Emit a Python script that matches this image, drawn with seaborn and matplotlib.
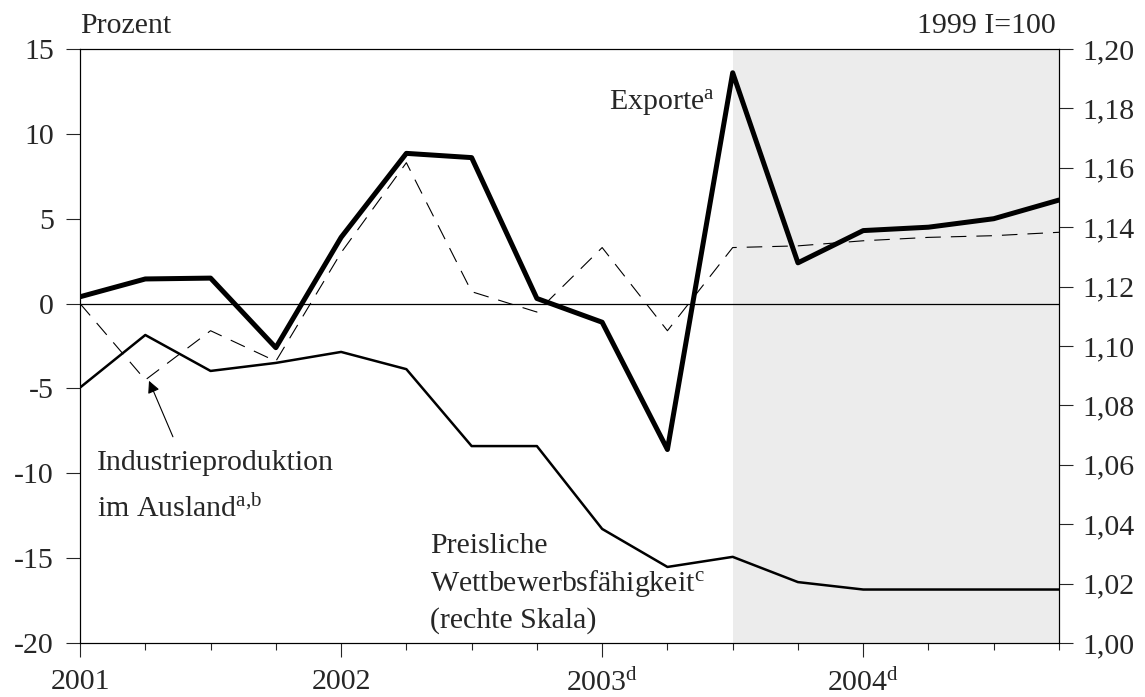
import matplotlib
matplotlib.use('Agg')
import matplotlib.pyplot as plt
import seaborn as sns
import pandas as pd
import numpy as np

# Quarterly data 2001 Q1 - 2004 Q4
quarters = [2001.0, 2001.25, 2001.5, 2001.75,
            2002.0, 2002.25, 2002.5, 2002.75,
            2003.0, 2003.25, 2003.5, 2003.75,
            2004.0, 2004.25, 2004.5, 2004.75]

# Exporte (Prozent, linke Skala)
exporte = [0.4, 1.45, 1.5, -2.6, 3.9, 8.85, 8.6, 0.3,
           -1.1, -8.6, 13.6, 2.4, 4.3, 4.5, 5.0, 6.1]

# Industrieproduktion im Ausland (Prozent, linke Skala)
industrie = [0.0, -4.5, -1.6, -3.4, 3.0, 8.3, 0.7, -0.5,
             3.3, -1.6, 3.3, 3.4, 3.7, 3.9, 4.0, 4.2]

# Preisliche Wettbewerbsfaehigkeit (rechte Skala)
preis = [1.086, 1.1037, 1.0916, 1.0943, 1.098, 1.0922, 1.0663, 1.0663,
         1.0384, 1.0256, 1.029, 1.0205, 1.018, 1.018, 1.018, 1.018]

year_ticks = [2001, 2002, 2003, 2004]
year_labels = ['2001', '2002', r'2003$^{\mathrm{d}}$', r'2004$^{\mathrm{d}}$']
left_ticks = [15, 10, 5, 0, -5, -10, -15, -20]
right_ticks = [1.00, 1.02, 1.04, 1.06, 1.08, 1.10, 1.12, 1.14, 1.16, 1.18, 1.20]
forecast_start = 2003.5

df = pd.DataFrame({'Quartal': quarters, 'Exporte': exporte,
                   'Industrie': industrie, 'Preis': preis})

sns.set_style('ticks')
plt.rcParams['font.family'] = ['Liberation Serif', 'DejaVu Serif']
plt.rcParams['mathtext.fontset'] = 'custom'
plt.rcParams['mathtext.rm'] = 'Liberation Serif'
plt.rcParams['mathtext.it'] = 'Liberation Serif:italic'

fs = 21.5

fig = plt.figure(figsize=(11.45, 6.97), dpi=100)
ax = fig.add_axes([0.0699, 0.0775, 0.855, 0.8522])
ax2 = ax.twinx()

# Prognosezeitraum schattiert
ax.axvspan(forecast_start, quarters[-1], facecolor='#ececec', edgecolor='none', zorder=0)
ax.axhline(0, color='black', lw=0.9, zorder=1)

sns.lineplot(data=df, x='Quartal', y='Industrie', ax=ax, color='black',
             lw=0.8, zorder=2)
ax.lines[-1].set_dashes([14, 9])
sns.lineplot(data=df, x='Quartal', y='Exporte', ax=ax, color='black',
             lw=3.6, zorder=3)
sns.lineplot(data=df, x='Quartal', y='Preis', ax=ax2, color='black',
             lw=1.8, zorder=3)

ax.set_xlim(quarters[0], quarters[-1])
ax.set_ylim(-20, 15)
ax2.set_ylim(1.00, 1.20)

ax.set_yticks(left_ticks)
ax.set_yticklabels([str(t) for t in left_ticks], fontsize=fs)
ax2.set_yticks(right_ticks)
ax2.set_yticklabels([f'{t:.2f}'.replace('.', ',') for t in right_ticks], fontsize=fs)
ax.set_xticks(year_ticks)
ax.set_xticklabels(year_labels, fontsize=fs)
ax.set_xticks(quarters, minor=True)

ax.tick_params(axis='y', length=10, width=0.8, direction='out', pad=9)
ax2.tick_params(axis='y', length=10, width=0.8, direction='out', pad=7)
ax.tick_params(axis='x', which='major', length=10, width=0.8, pad=9)
ax.tick_params(axis='x', which='minor', length=5, width=0.8)
ax.set_xlabel('')
ax.set_ylabel('')
ax2.set_ylabel('')

for a in (ax, ax2):
    for s in a.spines.values():
        s.set_visible(True)
        s.set_linewidth(0.8)
        s.set_color('black')

# Beschriftungen
fig.text(0.0699, 0.963, 'Prozent', fontsize=fs, ha='left', va='center')
fig.text(0.922, 0.963, '1999 I=100', fontsize=fs, ha='right', va='center')

ax.text(2003.43, 11.8, r'Exporte$^{\mathrm{a}}$', fontsize=fs, ha='right', va='center')
ax.text(2001.065, -9.4, 'Industrieproduktion', fontsize=fs, ha='left', va='center')
ax.text(2001.065, -12.1, r'im Ausland$^{\mathrm{a{,}b}}$', fontsize=fs, ha='left', va='center')
ax.annotate('', xy=(2001.26, -4.4), xytext=(2001.36, -8.0),
            arrowprops=dict(arrowstyle='-|>', color='black', lw=0.8, mutation_scale=18))
ax.text(2002.34, -14.3, 'Preisliche', fontsize=fs, ha='left', va='center')
ax.text(2002.34, -16.5, r'Wettbewerbsfähigkeit$^{\mathrm{c}}$', fontsize=fs, ha='left', va='center')
ax.text(2002.34, -18.7, '(rechte Skala)', fontsize=fs, ha='left', va='center')

fig.savefig('out.png', dpi=100)
